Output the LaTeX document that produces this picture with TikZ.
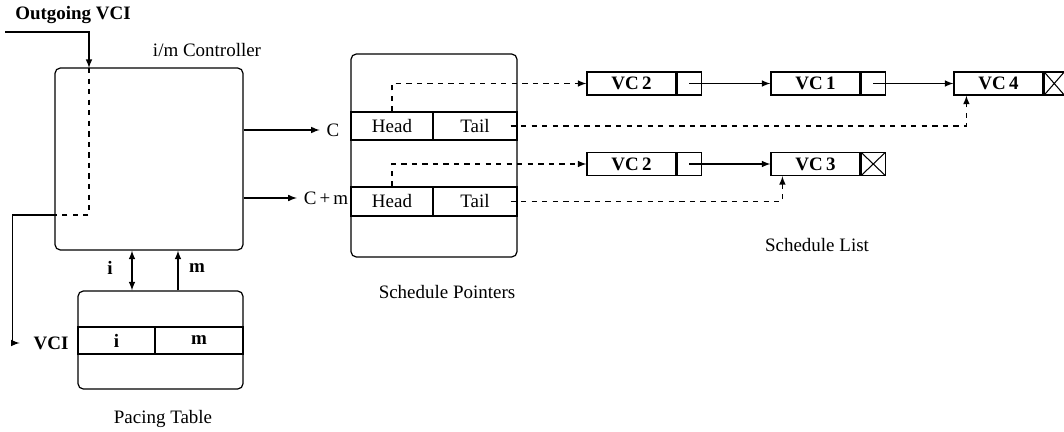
\documentclass[tikz,border=0pt]{standalone}
\usepackage{fontspec}
\setmainfont{Liberation Serif}
\usetikzlibrary{positioning}

\begin{document}
\fontsize{10.8}{13}\selectfont
\begin{tikzpicture}[x=0.02cm, y=-0.02cm, line width=0.7pt, >=latex,
    box/.style={draw, rounded corners=3pt, inner sep=0pt},
    cell/.style={draw, inner sep=0pt, minimum height=0.46cm},
    nil/.style={cell, minimum width=0.46cm, path picture={
        \draw[line width=0.6pt] (path picture bounding box.north west) -- (path picture bounding box.south east)
              (path picture bounding box.north east) -- (path picture bounding box.south west);}}]
  \useasboundingbox (0,0) rectangle (1064,432);

  % i/m controller
  \node[box, minimum width=3.76cm, minimum height=3.64cm] (ctl) at (149,159) {};
  \node (ctllbl) at (207,50) {i/m Controller};
  \node[font=\bfseries] (outvci) at (73,15) {Outgoing VCI};
  \coordinate (vcin) at (5,32);
  \coordinate (tap) at (89,68);
  \coordinate (bend) at (89,215);
  \draw[->] (vcin) -| (tap);
  \draw[dashed] (tap) -- (bend) -- (bend -| ctl.west);
  \node[font=\bfseries] (vci) at (51,343) {VCI};
  \draw[->, shorten >=4pt] (bend -| ctl.west) -- ++(-42,0) |- (vci.west);

  % Pacing table
  \node[box, minimum width=3.3cm, minimum height=1.96cm] (ptab) at (160.5,340) {};
  \node[cell, minimum width=1.54cm, minimum height=0.54cm, font=\bfseries] (pi) at (116.5,340.5) {i};
  \node[cell, minimum width=1.76cm, minimum height=0.54cm, font=\bfseries] (pm) at (199,340.5) {m};
  \node (ptablbl) at (163,419) {Pacing Table};
  \draw[<->] (ctl.south -| 132,0) -- (ptab.north -| 132,0);
  \draw[->] (ptab.north -| 178,0) -- (ctl.south -| 178,0);
  \node[font=\bfseries] (ilbl) at (110,268) {i};
  \node[font=\bfseries] (mlbl) at (197,268) {m};

  % Schedule pointers
  \node[box, minimum width=3.32cm, minimum height=4.06cm] (sptr) at (434,155.5) {};
  \node[cell, minimum width=1.64cm, minimum height=0.56cm] (hd1) at (392,126) {Head};
  \node[cell, minimum width=1.68cm, minimum height=0.56cm] (tl1) at (475,126) {Tail};
  \node[cell, minimum width=1.64cm, minimum height=0.58cm] (hd2) at (392,201.5) {Head};
  \node[cell, minimum width=1.68cm, minimum height=0.58cm] (tl2) at (475,201.5) {Tail};
  \node (sptrlbl) at (447,292) {Schedule Pointers};
  \node (clbl) at (333,130) {C};
  \node (cmlbl) at (326,198) {C\,+\,m};
  \draw[->] (ctl.east |- clbl) -- (clbl.west);
  \draw[->] (ctl.east |- cmlbl) -- (cmlbl.west);

  % Schedule list
  \node[cell, minimum width=1.78cm, font=\bfseries] (vc2a) at (631.5,83.5) {VC\,2};
  \node[cell, minimum width=0.48cm, right=0pt of vc2a] (nx2a) {};
  \node[cell, minimum width=1.78cm, font=\bfseries] (vc1) at (815.5,83.5) {VC\,1};
  \node[cell, minimum width=0.48cm, right=0pt of vc1] (nx1) {};
  \node[cell, minimum width=1.78cm, font=\bfseries] (vc4) at (998.5,83.5) {VC\,4};
  \node[nil, minimum width=0.4cm, right=0pt of vc4] (nil4) {};
  \node[cell, minimum width=1.78cm, font=\bfseries] (vc2b) at (631.5,164) {VC\,2};
  \node[cell, minimum width=0.48cm, right=0pt of vc2b] (nx2b) {};
  \node[cell, minimum width=1.78cm, font=\bfseries] (vc3) at (815.5,164) {VC\,3};
  \node[nil, minimum width=0.48cm, right=0pt of vc3] (nil3) {};
  \node (sllbl) at (817,245) {Schedule List};

  \draw[->] (nx2a.center) -- (vc1.west);
  \draw[->] (nx1.center) -- (vc4.west);
  \draw[->] (nx2b.center) -- (vc3.west);

  % head and tail pointers
  \draw[dashed, ->] (hd1.north) |- (vc2a.west);
  \draw[dashed, ->] (hd2.north) |- (vc2b.west);
  \draw[dashed, ->] ([xshift=-4pt]tl1.east) -| ([xshift=0.26cm]vc4.south west);
  \draw[dashed, ->] ([xshift=-4pt]tl2.east) -| ([xshift=0.24cm]vc3.south west);
\end{tikzpicture}
\end{document}
